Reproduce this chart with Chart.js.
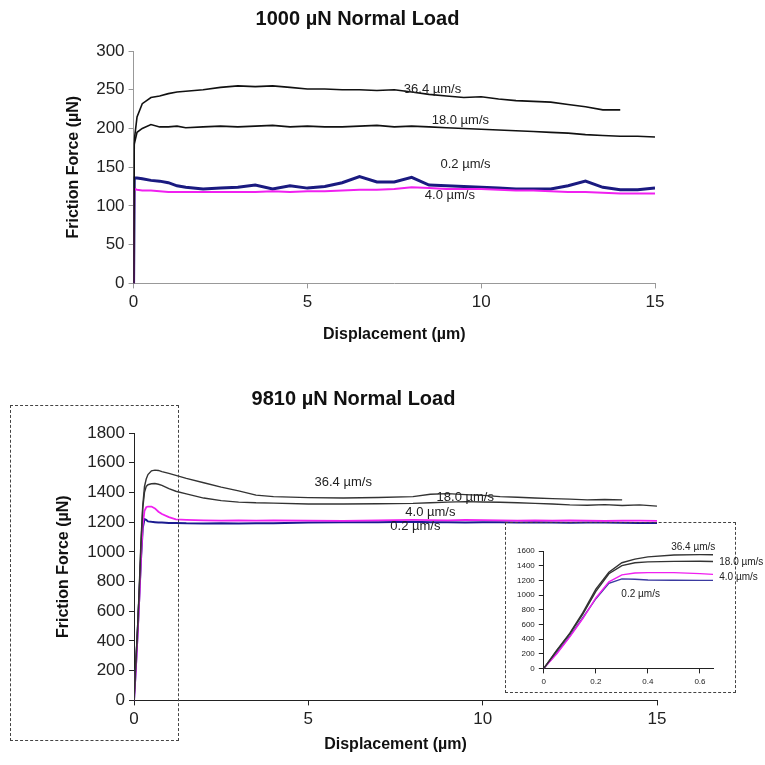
<!DOCTYPE html>
<html>
<head>
<meta charset="utf-8">
<script src="https://cdn.jsdelivr.net/npm/chart.js@4"></script>
<style>
  body { margin: 0; background: #fff; }
  #wrap { position: relative; width: 765px; height: 765px; overflow: hidden; }
  canvas { position: absolute; }
  .box { position: absolute; border: 1.5px dashed #444; box-sizing: border-box; }
</style>
</head>
<body>
<div id="wrap">
  <canvas id="top-chart" width="730" height="360" style="left:0;top:0"></canvas>
  <canvas id="bottom-chart" width="730" height="395" style="left:0;top:370px"></canvas>
  <div class="box" style="left:10px;top:405px;width:169px;height:336px"></div>
  <div class="box" style="left:505px;top:522px;width:231px;height:171px"></div>
  <canvas id="inset-chart" width="259" height="168" style="left:506px;top:523px"></canvas>
</div>
<script>
// 1000 µN 载荷 - 位移 (µm)
const disp1 = [0, 0.02, 0.1, 0.25, 0.5, 0.75, 1, 1.25, 1.5, 2, 2.5, 3, 3.5, 4, 4.5, 5, 5.5, 6, 6.5, 7, 7.5, 8, 8.5, 9, 9.5, 10, 10.5, 11, 11.5, 12, 12.5, 13, 13.5, 14, 14.5, 15];
const load1_364 = [0, 185, 215, 232, 240, 242, 245, 247, 248, 250, 253, 255, 254, 255, 253, 251, 251, 250, 250, 249, 250, 247, 244, 242, 240, 241, 238, 236, 235, 234, 231, 228, 224, 224, null, null];
const load1_180 = [0, 180, 195, 200, 205, 202, 202, 203, 201, 202, 203, 202, 203, 204, 202, 203, 202, 202, 203, 204, 202, 203, 202, 201, 200, 199, 198, 197, 196, 195, 194, 192, 191, 190, 190, 189];
const load1_02 = [0, 136, 136, 135, 133, 132, 130, 126, 124, 122, 123, 124, 127, 122, 126, 123, 125, 130, 138, 131, 131, 137, 127, 126, 125, 124, 123, 122, 122, 122, 126, 132, 124, 121, 121, 123];
const load1_40 = [0, 122, 121, 120, 120, 119, 118, 118, 118, 118, 118, 118, 118, 119, 118, 119, 119, 120, 121, 121, 122, 124, 123, 122, 122, 122, 121, 120, 120, 119, 118, 118, 117, 116, 116, 116];

// 9810 µN 载荷
const disp2 = [0, 0.05, 0.1, 0.15, 0.2, 0.25, 0.3, 0.35, 0.4, 0.5, 0.6, 0.7, 0.8, 1, 1.2, 1.5, 2, 2.5, 3, 3.5, 4, 5, 6, 7, 8, 8.5, 9, 9.5, 10, 10.5, 11, 11.5, 12, 12.5, 13, 13.5, 14, 14.5, 15];
const load2_364 = [0, 250, 480, 760, 1080, 1310, 1440, 1490, 1520, 1545, 1550, 1548, 1540, 1528, 1515, 1495, 1465, 1436, 1410, 1382, 1372, 1365, 1362, 1366, 1372, 1388, 1392, 1385, 1380, 1372, 1368, 1362, 1358, 1355, 1350, 1352, 1350, null, null];
const load2_180 = [0, 240, 470, 740, 1050, 1290, 1400, 1440, 1452, 1458, 1460, 1455, 1448, 1425, 1408, 1390, 1362, 1345, 1335, 1330, 1328, 1322, 1322, 1324, 1326, 1330, 1335, 1338, 1336, 1334, 1330, 1326, 1322, 1316, 1314, 1318, 1312, 1316, 1308];
const load2_40 = [0, 200, 430, 680, 960, 1180, 1275, 1300, 1305, 1305, 1292, 1270, 1255, 1234, 1218, 1215, 1212, 1210, 1212, 1210, 1212, 1210, 1208, 1212, 1215, 1214, 1212, 1215, 1214, 1212, 1210, 1212, 1210, 1212, 1210, 1208, 1210, 1210, 1208];
const load2_02 = [0, 210, 440, 690, 950, 1160, 1220, 1215, 1205, 1202, 1200, 1198, 1198, 1195, 1195, 1192, 1190, 1192, 1190, 1192, 1193, 1198, 1200, 1200, 1202, 1200, 1200, 1198, 1200, 1200, 1198, 1200, 1198, 1196, 1198, 1198, 1196, 1195, 1195];

// 曲线旁的速度标注 (数据坐标)
const topNotes = [
  { text: '36.4 µm/s', x: 8.6, y: 251, align: 'center' },
  { text: '18.0 µm/s', x: 9.4, y: 210, align: 'center' },
  { text: '0.2 µm/s', x: 9.55, y: 154, align: 'center' },
  { text: '4.0 µm/s', x: 9.1, y: 113, align: 'center' }
];
const bottomNotes = [
  { text: '36.4 µm/s', x: 6.0, y: 1470, align: 'center' },
  { text: '18.0 µm/s', x: 9.5, y: 1369, align: 'center' },
  { text: '4.0 µm/s', x: 8.5, y: 1267, align: 'center' },
  { text: '0.2 µm/s', x: 8.07, y: 1173, align: 'center' }
];
const insetNotes = [
  { text: '36.4 µm/s', x: 0.574, y: 1650, align: 'center' },
  { text: '18.0 µm/s', x: 0.674, y: 1450, align: 'left' },
  { text: '4.0 µm/s', x: 0.674, y: 1240, align: 'left' },
  { text: '0.2 µm/s', x: 0.372, y: 1008, align: 'center' }
];

Chart.defaults.font.family = 'Arial, "Liberation Sans", sans-serif';
Chart.defaults.color = '#222';

const pair = (xs, ys) => xs.map((x, i) => ({ x: x, y: ys[i] }));

const notePlugin = {
  id: 'notes',
  afterDatasetsDraw(chart, args, opts) {
    const c = chart.ctx;
    const xs = chart.scales.x, ys = chart.scales.y;
    c.save();
    c.font = opts.size + 'px Arial, "Liberation Sans", sans-serif';
    c.fillStyle = '#222';
    c.textBaseline = 'middle';
    opts.items.forEach(n => {
      c.textAlign = n.align;
      c.fillText(n.text, xs.getPixelForValue(n.x), ys.getPixelForValue(n.y));
    });
    c.restore();
  }
};

function lineSet(xs, ys, color, width) {
  return {
    data: pair(xs, ys),
    borderColor: color,
    borderWidth: width,
    pointRadius: 0,
    tension: 0,
    spanGaps: false
  };
}

function axisOpts(min, max, step, title, fontSize, axisColor) {
  return {
    type: 'linear',
    min: min,
    max: max,
    ticks: { stepSize: step, color: '#222', font: { size: fontSize }, padding: 4, callback: v => String(v) },
    grid: { drawOnChartArea: false, drawTicks: true, tickLength: 5, color: axisColor },
    border: { display: true, color: axisColor, width: 1 },
    title: title
  };
}

// 上图
new Chart(document.getElementById('top-chart'), {
  type: 'line',
  data: {
    datasets: [
      lineSet(disp1, load1_364, '#111', 1.6),
      lineSet(disp1, load1_180, '#111', 1.6),
      lineSet(disp1, load1_40, '#f020f0', 2),
      lineSet(disp1, load1_02, '#1a1a80', 3)
    ]
  },
  options: {
    responsive: false,
    animation: false,
    layout: { padding: { left: 60, right: 75, top: 0, bottom: 12 } },
    plugins: {
      legend: { display: false },
      tooltip: { enabled: false },
      title: { display: true, text: '1000 µN Normal Load', font: { size: 20, weight: 'bold' }, color: '#111', padding: { top: 7, bottom: 20 } },
      notes: { items: topNotes, size: 13 }
    },
    scales: {
      x: axisOpts(0, 15, 5, { display: true, text: 'Displacement (µm)', font: { size: 16, weight: 'bold' }, color: '#111', padding: { top: 8 } }, 17, '#999'),
      y: axisOpts(0, 300, 50, { display: true, text: 'Friction Force (µN)', font: { size: 16, weight: 'bold' }, color: '#111', padding: { bottom: 9 } }, 17, '#999')
    }
  },
  plugins: [notePlugin]
});

// 下图
new Chart(document.getElementById('bottom-chart'), {
  type: 'line',
  data: {
    datasets: [
      lineSet(disp2, load2_364, '#333', 1.4),
      lineSet(disp2, load2_180, '#333', 1.4),
      lineSet(disp2, load2_40, '#f020f0', 1.8),
      lineSet(disp2, load2_02, '#1a1a90', 2)
    ]
  },
  options: {
    responsive: false,
    animation: false,
    layout: { padding: { left: 50, right: 73, top: 0, bottom: 7 } },
    plugins: {
      legend: { display: false },
      tooltip: { enabled: false },
      title: { display: true, text: '9810 µN Normal Load', font: { size: 20, weight: 'bold' }, color: '#111', padding: { top: 17, bottom: 22 } },
      notes: { items: bottomNotes, size: 13 }
    },
    scales: {
      x: axisOpts(0, 15, 5, { display: true, text: 'Displacement (µm)', font: { size: 16, weight: 'bold' }, color: '#111', padding: { top: 1 } }, 17, '#222'),
      y: axisOpts(0, 1800, 200, { display: true, text: 'Friction Force (µN)', font: { size: 16, weight: 'bold' }, color: '#111', padding: { bottom: 10 } }, 17, '#222')
    }
  },
  plugins: [notePlugin]
});

// 插图: 起始段放大
const insetX = axisOpts(0, 0.65, 0.2, { display: false }, 8, '#222');
insetX.afterBuildTicks = axis => { axis.ticks = [0, 0.2, 0.4, 0.6].map(v => ({ value: v })); };
new Chart(document.getElementById('inset-chart'), {
  type: 'line',
  data: {
    datasets: [
      lineSet(disp2, load2_364, '#333', 1.4),
      lineSet(disp2, load2_180, '#333', 1.4),
      lineSet(disp2, load2_40, '#f020f0', 1.4),
      lineSet(disp2, load2_02, '#3a3aa0', 1.4)
    ]
  },
  options: {
    responsive: false,
    animation: false,
    layout: { padding: { left: 7, right: 52, top: 28, bottom: 0 } },
    plugins: {
      legend: { display: false },
      tooltip: { enabled: false },
      notes: { items: insetNotes, size: 10 }
    },
    scales: {
      x: insetX,
      y: axisOpts(0, 1600, 200, { display: false }, 8, '#222')
    }
  },
  plugins: [notePlugin]
});
</script>
</body>
</html>
